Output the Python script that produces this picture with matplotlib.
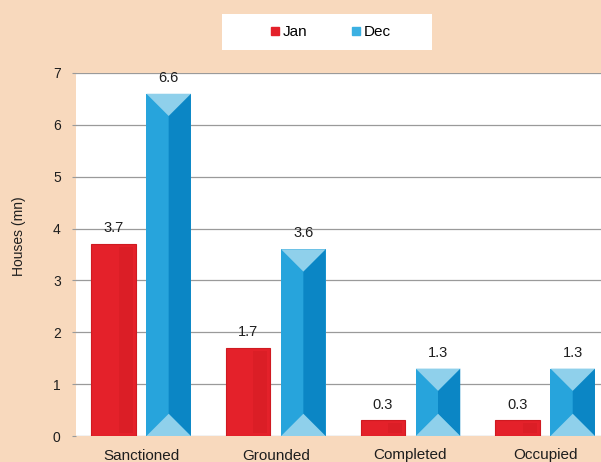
import matplotlib.pyplot as plt
from matplotlib.patches import Polygon, Rectangle
from matplotlib.lines import Line2D

categories = ["Sanctioned", "Grounded", "Completed", "Occupied"]
jan = [3.7, 1.7, 0.3, 0.3]
dec = [6.6, 3.6, 1.3, 1.3]
y_ticks = [0, 1, 2, 3, 4, 5, 6, 7]

PEACH = "#f8d9bd"
RED = "#e4212a"
RED_DARK = "#cf1a21"
BLUE_L = "#27a4dc"
BLUE_R = "#0b86c5"
BLUE_TRI = "#8fd0eb"

plt.rcParams["font.family"] = ["Liberation Sans", "DejaVu Sans"]

W, H = 601, 462
fig = plt.figure(figsize=(W / 100, H / 100), dpi=100, facecolor=PEACH)
left, right, top, bottom = 76, 601, 73, 436
ax = fig.add_axes([left / W, 1 - bottom / H, (right - left) / W, (bottom - top) / H])
ax.set_facecolor("white")

x0, x1 = -0.483, 3.415
ax.set_xlim(x0, x1)
ax.set_ylim(0, 7)

width = 0.33
off = 0.205
xs = list(range(len(categories)))

# pixels per data unit, used to keep the bevel at 45 degrees
ppx = (right - left) / (x1 - x0)
ppy = (bottom - top) / 7.0

bars_jan = ax.bar([x - off for x in xs], jan, width, color=RED,
                  edgecolor=RED_DARK, linewidth=0.8, zorder=3)
bars_dec = ax.bar([x + off for x in xs], dec, width, color=BLUE_L,
                  linewidth=0, zorder=3)

# subtle inner shading on the red bars
for r in bars_jan:
    bx, bw, bh = r.get_x(), r.get_width(), r.get_height()
    ix = 3 / ppx
    iy = 3 / ppy
    if bh > 2 * iy:
        ax.add_patch(Polygon([(bx + bw * 0.62, bh - iy), (bx + bw - ix, bh - iy),
                              (bx + bw - ix, iy), (bx + bw * 0.62, iy)],
                             closed=True, facecolor="#d41c24", linewidth=0,
                             alpha=0.5, zorder=4))

# pyramid bevel on the blue bars
for r in bars_dec:
    bx, bw, bh = r.get_x(), r.get_width(), r.get_height()
    cx = bx + bw / 2
    d = (bw / 2) * ppx / ppy
    d = min(d, bh / 2)
    tl, tr = (bx, bh), (bx + bw, bh)
    bl, br = (bx, 0), (bx + bw, 0)
    at, ab = (cx, bh - d), (cx, d)
    ax.add_patch(Polygon([tr, at, ab, br], closed=True, facecolor=BLUE_R,
                         linewidth=0, zorder=4))
    ax.add_patch(Polygon([tl, tr, at], closed=True, facecolor=BLUE_TRI,
                         linewidth=0, zorder=4))
    ax.add_patch(Polygon([bl, br, ab], closed=True, facecolor=BLUE_TRI,
                         linewidth=0, zorder=4))

for bars, vals in ((bars_jan, jan), (bars_dec, dec)):
    for r, v in zip(bars, vals):
        ax.text(r.get_x() + r.get_width() / 2, v + 0.17, f"{v}",
                ha="center", va="bottom", fontsize=10.5, color="#1e1e1e")

ax.set_yticks(y_ticks)
ax.set_xticks(xs)
ax.set_xticklabels(categories)
ax.grid(axis="y", color="#9a9a9a", linewidth=0.9, zorder=1)
ax.set_axisbelow(True)
for s in ax.spines.values():
    s.set_visible(False)
ax.tick_params(axis="y", length=3, color="#9a9a9a", pad=8, labelsize=10,
               labelcolor="#1e1e1e")
ax.tick_params(axis="x", length=0, pad=9, labelsize=11, labelcolor="#1e1e1e")
ax.set_ylabel("Houses (mn)", fontsize=10, color="#1e1e1e")
ax.yaxis.set_label_coords(-50 / (right - left), 0.55)

# legend box
fig.patches.append(Rectangle((222 / W, 1 - 50 / H), 210 / W, 36 / H,
                             transform=fig.transFigure, facecolor="white",
                             edgecolor="none", zorder=0))
handles = [Line2D([], [], marker="s", linestyle="none", color=RED, markersize=5.5),
           Line2D([], [], marker="s", linestyle="none", color="#3bb0e2", markersize=5.5)]
fig.legend(handles, ["Jan", "Dec"], loc="center", ncol=2, frameon=False,
           bbox_to_anchor=(330 / W, 1 - 32 / H), fontsize=11,
           handletextpad=0.1, columnspacing=2.8, handlelength=0.8)

fig.savefig("out.png", dpi=100, facecolor=PEACH)
